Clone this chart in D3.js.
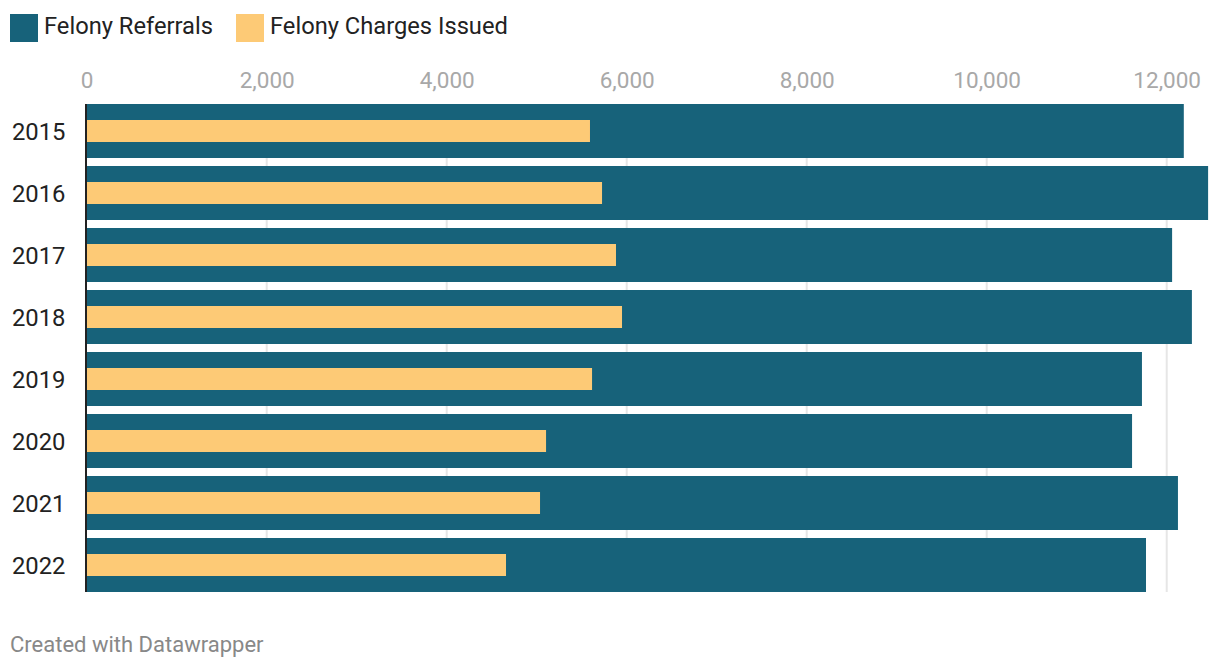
<!DOCTYPE html>
<html><head><meta charset="utf-8">
<script src="https://cdn.jsdelivr.net/npm/d3@7"></script>
<style>
body{margin:0;background:#fff;font-family:Roboto,"Noto Sans",sans-serif;}
</style></head>
<body><svg id="c" width="1220" height="670"></svg>
<script>
const years = ["2015","2016","2017","2018","2019","2020","2021","2022"];
const referrals = [12190, 12460, 12060, 12280, 11725, 11615, 12125, 11770];
const charges = [5592, 5726, 5881, 5948, 5615, 5104, 5037, 4659];
const ticks = [0, 2000, 4000, 6000, 8000, 10000, 12000];
const seriesNames = ["Felony Referrals", "Felony Charges Issued"];
const colors = ["#17627a", "#fdca76"];

const svg = d3.select("#c");
const x = d3.scaleLinear().domain([0, 12000]).range([86.7, 1166.7]);
const y = d3.scaleBand().domain(years).range([104, 592]).paddingInner(8/62).paddingOuter(0);

// gridlines
svg.append("g").selectAll("line").data(ticks.filter(t=>t>0)).join("line")
  .attr("x1", d=>x(d)).attr("x2", d=>x(d))
  .attr("y1", 104).attr("y2", 592)
  .attr("stroke", "#e6e6e6").attr("stroke-width", 2);

// tick labels
svg.append("g").selectAll("text").data(ticks).join("text")
  .attr("x", d=>x(d)+0.5).attr("y", 88)
  .attr("text-anchor", "middle")
  .attr("font-size", 22.5).attr("fill", "#a8a8a8")
  .text(d=>d3.format(",")(d));

// referral bars
svg.append("g").selectAll("rect").data(years).join("rect")
  .attr("x", x(0)).attr("y", d=>y(d))
  .attr("width", (d,i)=>x(referrals[i])-x(0))
  .attr("height", y.bandwidth())
  .attr("fill", colors[0]);

// charges bars
const innerH = 22;
svg.append("g").selectAll("rect").data(years).join("rect")
  .attr("x", x(0)).attr("y", d=>y(d)+(y.bandwidth()-innerH)/2)
  .attr("width", (d,i)=>x(charges[i])-x(0))
  .attr("height", innerH)
  .attr("fill", colors[1]);

// axis baseline
svg.append("line").attr("x1", 86).attr("x2", 86).attr("y1", 104).attr("y2", 592)
  .attr("stroke", "#222").attr("stroke-width", 2);

// year labels
svg.append("g").selectAll("text").data(years).join("text")
  .attr("x", 12).attr("y", d=>y(d)+y.bandwidth()/2+8.5)
  .attr("font-size", 23.8).attr("fill", "#222")
  .text(d=>d);

// legend
const legX = [10, 236];
seriesNames.forEach((n,i)=>{
  svg.append("rect").attr("x", legX[i]).attr("y", 14).attr("width", 28).attr("height", 28).attr("fill", colors[i]);
  svg.append("text").attr("x", legX[i]+34).attr("y", 34).attr("font-size", 23.7).attr("fill", "#222").text(n);
});

// footer
svg.append("text").attr("x", 10).attr("y", 652).attr("font-size", 22).attr("fill", "#888")
  .text("Created with Datawrapper");
</script></body></html>
